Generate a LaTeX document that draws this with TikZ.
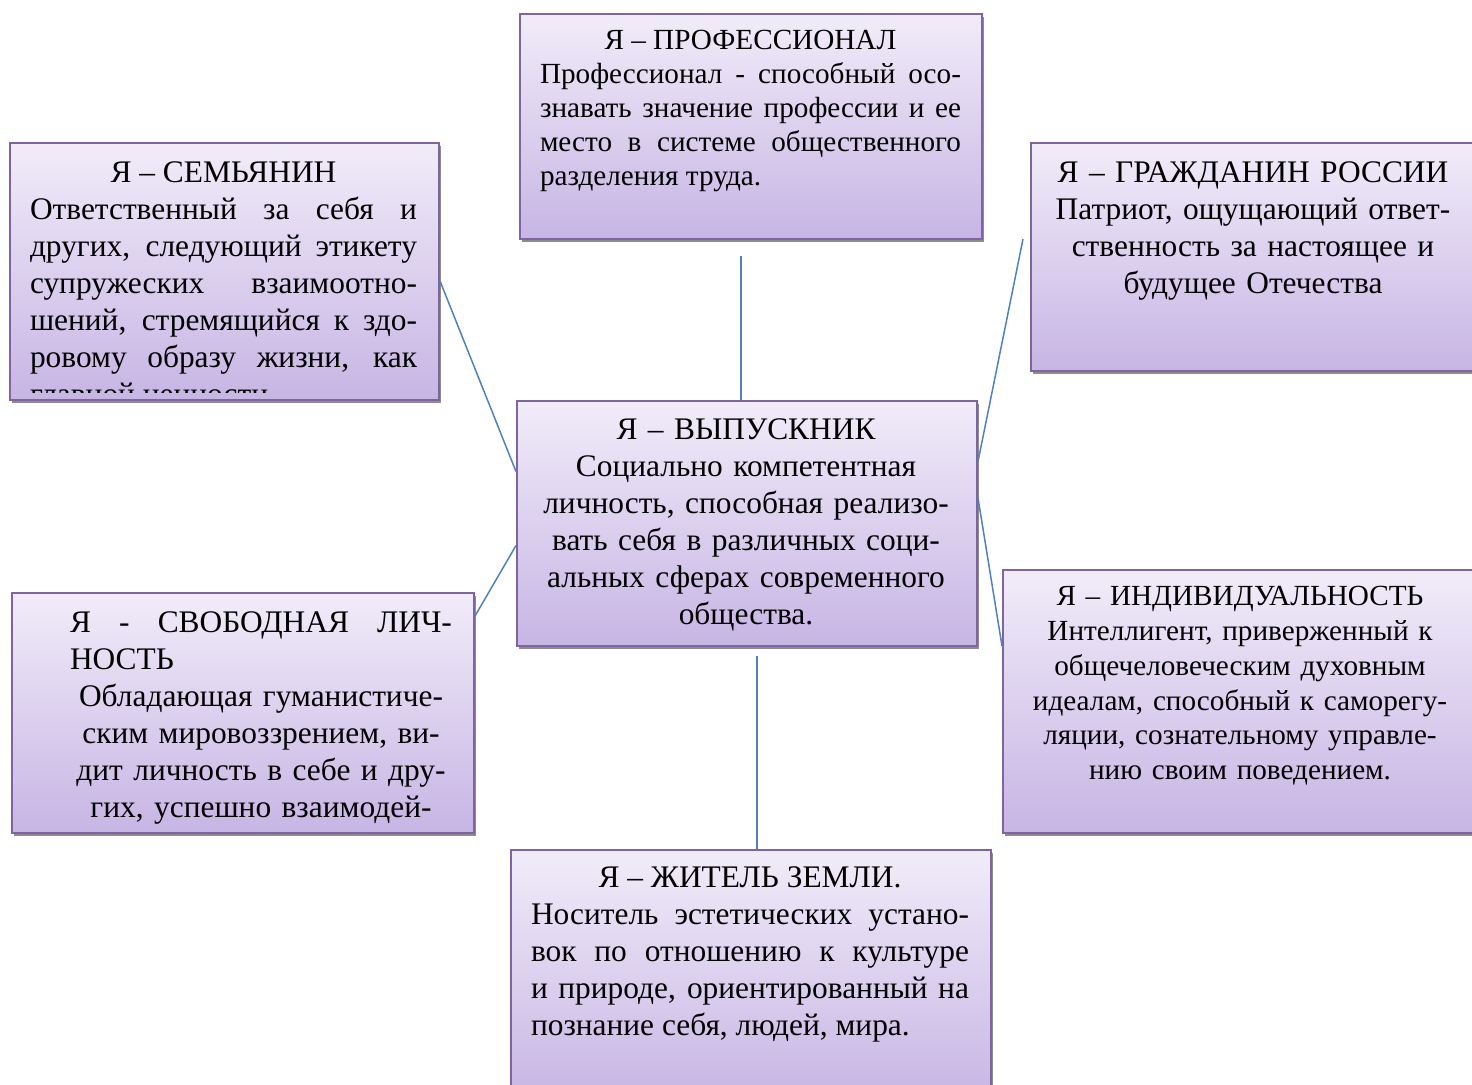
\documentclass[tikz,border=0pt]{standalone}
\usepackage{fontspec}
\setmainfont{Liberation Serif}
\usetikzlibrary{shadows}

\definecolor{cardtop}{RGB}{241,236,249}
\definecolor{cardbot}{RGB}{199,181,228}
\definecolor{cardline}{RGB}{128,100,162}
\definecolor{linkblue}{RGB}{79,129,189}

\tikzset{
	card/.style={draw=cardline, line width=1pt, top color=cardtop, bottom color=cardbot,
		anchor=north west, inner sep=0pt,
		drop shadow={shadow xshift=1pt, shadow yshift=-1.5pt, fill=black!45, opacity=1}},
	bigtext/.style={font=\fontsize{15.7}{18.5}\selectfont, inner sep=0pt, anchor=north},
	smalltext/.style={font=\fontsize{14.6}{17}\selectfont, inner sep=0pt, anchor=north},
	link/.style={draw=linkblue, line width=0.75pt}
}

\begin{document}
\begin{tikzpicture}[x=0.5pt,y=-0.5pt]
	\tolerance=10000 \hyphenpenalty=10000
	\useasboundingbox (0,0) rectangle (1472,1084);
	\clip (0,0) rectangle (1472,1084);
	
	% boxes
	\node[card, minimum width=231pt, minimum height=112.5pt] (prof) at (519,13) {};
	\node[card, minimum width=214.5pt, minimum height=128.5pt] (fam) at (9,142) {};
	\node[card, minimum width=223pt, minimum height=114pt] (cit) at (1030,142) {};
	\node[card, minimum width=230pt, minimum height=122.5pt] (grad) at (516,400) {};
	\node[card, minimum width=231pt, minimum height=120pt] (free) at (11,592) {};
	\node[card, minimum width=238pt, minimum height=131.5pt] (indiv) at (1002,569) {};
	\node[card, minimum width=240pt, minimum height=125.5pt] (earth) at (510,849) {};
	
	% texts
	\node[smalltext, text width=210.5pt, align=justify] (proftxt) at (750.5,30)
		{{\centering Я – ПРОФЕССИОНАЛ\par}Профессионал - способный осо-\linebreak
		знавать значение профессии и ее\linebreak
		место в системе общественного\linebreak
		разделения труда.};
	\begin{scope}
		\clip (fam.north west) rectangle ([yshift=4.5pt]fam.south east);
		\node[bigtext, text width=193.5pt, align=justify] (famtxt) at (223.5,161)
			{{\centering Я – СЕМЬЯНИН\par}Ответственный за себя и\linebreak
			других, следующий этикету\linebreak
			супружеских взаимоотно-\linebreak
			шений, стремящийся к здо-\linebreak
			ровому образу жизни, как\linebreak
			главной ценности};
	\end{scope}
	\node[bigtext, text width=215pt, align=center] (cittxt) at (1253,161)
		{Я – ГРАЖДАНИН РОССИИ\\ Патриот, ощущающий ответ-\\ ственность за настоящее и\\ будущее Отечества};
	\node[bigtext, text width=215pt, align=center] (gradtxt) at (746,418)
		{Я – ВЫПУСКНИК\\ Социально компетентная\\ личность, способная реализо-\\
		вать себя в различных соци-\\ альных сферах современного\\ общества.};
	\node[bigtext, text width=191pt, align=center] (freetxt) at (261,611)
		{\leavevmode\hbox to 191pt{Я\hfill-\hfill СВОБОДНАЯ\hfill ЛИЧ-}\\ \leavevmode\hbox to 191pt{НОСТЬ\hfill}\\
		Обладающая гуманистиче-\\ ским мировоззрением, ви-\\ дит личность в себе и дру-\\ гих, успешно взаимодей-};
	\node[smalltext, font=\fontsize{14.6}{17.4}\selectfont, text width=215pt, align=center] (indivtxt) at (1240,586)
		{Я – ИНДИВИДУАЛЬНОСТЬ\\ Интеллигент, приверженный к\\ общечеловеческим духовным\\
		идеалам, способный к саморегу-\\ ляции, сознательному управле-\\ нию своим поведением.};
	\node[bigtext, text width=219pt, align=justify] (earthtxt) at (750,866)
		{{\centering Я – ЖИТЕЛЬ ЗЕМЛИ.\par}Носитель эстетических устано-\linebreak
		вок по отношению к культуре\linebreak
		и природе, ориентированный на\linebreak
		познание себя, людей, мира.};
	
	% connecting lines
	\draw[link] ([xshift=-5pt,yshift=-8pt]prof.south) -- ([xshift=-3pt]grad.north);
	\draw[link] ([yshift=-4.75pt]fam.east) -- ([yshift=26pt]grad.west);
	\draw[link] ([yshift=-12pt]free.north east) -- ([yshift=-11pt]grad.west);
	\draw[link] ([xshift=-3.5pt,yshift=9pt]cit.west) -- ([yshift=31pt]grad.east);
	\draw[link] ([yshift=12.75pt]grad.east) -- ([yshift=27.75pt]indiv.west);
	\draw[link] ([xshift=5pt,yshift=-4.5pt]grad.south) -- ([xshift=3pt]earth.north);
	
\end{tikzpicture}
\end{document}
